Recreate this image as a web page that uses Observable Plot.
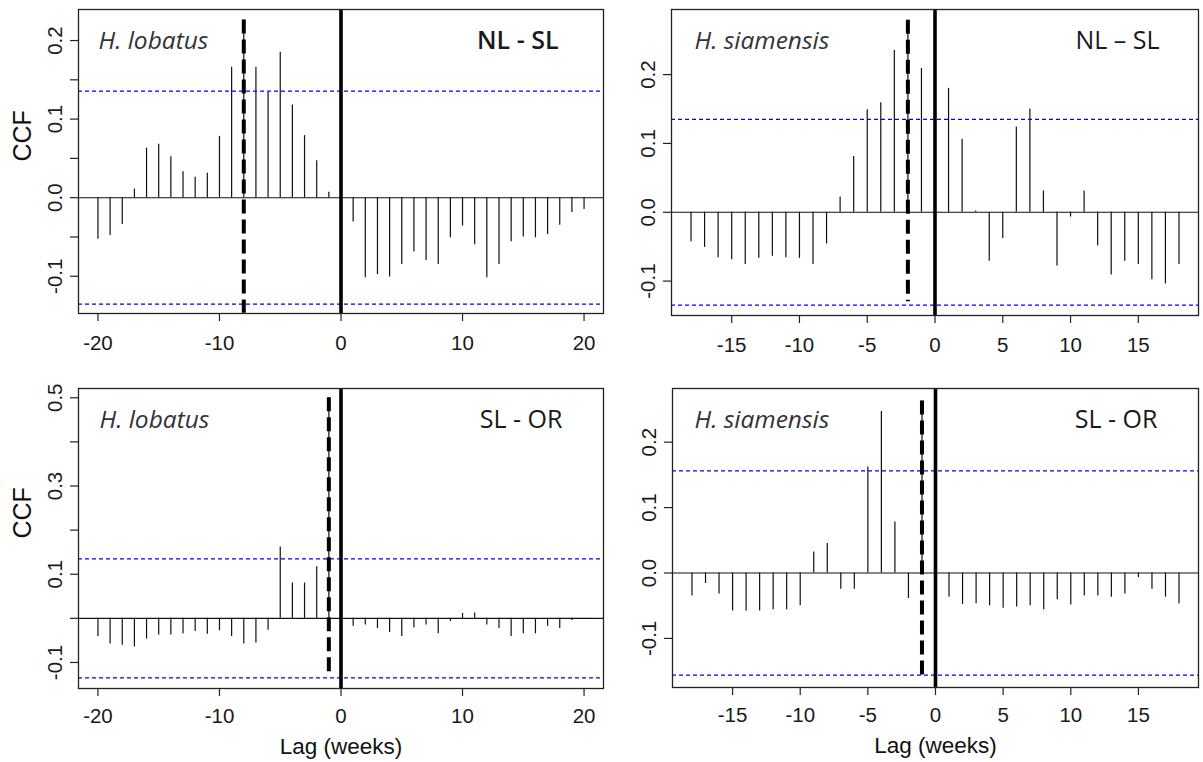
<!DOCTYPE html>
<html><head><meta charset="utf-8">
<script src="https://cdn.jsdelivr.net/npm/d3@7"></script>
<script src="https://cdn.jsdelivr.net/npm/@observablehq/plot@0.6"></script>
<style>
html,body{margin:0;padding:0;background:#fff;}
#wrap{position:relative;width:1203px;height:762px;overflow:hidden;background:#fff;}
#wrap svg{position:absolute;}
</style></head><body><div id="wrap"></div>
<script>
// ---------- data ----------
const lagsLobatus = [-20,-19,-18,-17,-16,-15,-14,-13,-12,-11,-10,-9,-8,-7,-6,-5,-4,-3,-2,-1,0,1,2,3,4,5,6,7,8,9,10,11,12,13,14,15,16,17,18,19,20];
const lagsSiamensis = [-18,-17,-16,-15,-14,-13,-12,-11,-10,-9,-8,-7,-6,-5,-4,-3,-2,-1,0,1,2,3,4,5,6,7,8,9,10,11,12,13,14,15,16,17,18];

const ccfLobatusNLSL = [-0.053,-0.048,-0.034,0.011,0.063,0.068,0.052,0.033,0.026,0.031,0.078,0.166,0.226,0.166,0.134,0.185,0.118,0.079,0.047,0.007,-0.010,-0.031,-0.102,-0.098,-0.101,-0.085,-0.069,-0.080,-0.085,-0.051,-0.036,-0.060,-0.102,-0.085,-0.056,-0.050,-0.051,-0.047,-0.035,-0.019,-0.015];
const ccfSiamensisNLSL = [-0.043,-0.051,-0.066,-0.069,-0.076,-0.067,-0.064,-0.066,-0.067,-0.076,-0.046,0.022,0.081,0.149,0.159,0.235,0.279,0.209,0.050,0.180,0.106,0.002,-0.071,-0.038,0.124,0.150,0.031,-0.078,-0.007,0.031,-0.049,-0.091,-0.071,-0.076,-0.098,-0.104,-0.076];
const ccfLobatusSLOR = [-0.041,-0.058,-0.061,-0.065,-0.047,-0.038,-0.038,-0.035,-0.030,-0.036,-0.028,-0.041,-0.058,-0.056,-0.027,0.162,0.080,0.080,0.117,0.500,-0.010,-0.018,-0.015,-0.023,-0.032,-0.041,-0.022,-0.015,-0.035,-0.007,0.011,0.012,-0.015,-0.023,-0.041,-0.035,-0.035,-0.018,-0.023,-0.005,-0.002];
const ccfSiamensisSLOR = [-0.035,-0.016,-0.032,-0.058,-0.058,-0.058,-0.056,-0.056,-0.050,0.032,0.045,-0.025,-0.025,0.162,0.247,0.078,-0.039,0.263,-0.030,-0.037,-0.048,-0.047,-0.050,-0.054,-0.052,-0.050,-0.056,-0.041,-0.049,-0.035,-0.035,-0.037,-0.032,-0.007,-0.025,-0.037,-0.047];

const ciLimits = [0.1355, 0.135, 0.135, 0.156];
const peakLags = [-8, -2, -1, -1];
const peakTops = [0.226, 0.279, 0.5, 0.263];
const peakBottoms = [-0.147, -0.130, -0.134, -0.156];

const speciesNames = ["H. lobatus", "H. siamensis", "H. lobatus", "H. siamensis"];
const pairNames = ["NL - SL", "NL \u2013 SL", "SL - OR", "SL - OR"];
const yAxisTitle = "CCF";
const xAxisTitle = "Lag (weeks)";

const xTicksLobatus = [-20, -10, 0, 10, 20];
const xTicksSiamensis = [-15, -10, -5, 0, 5, 10, 15];
const yTicks1 = [-0.1, -0.05, 0, 0.05, 0.1, 0.15, 0.2];
const yLabels1 = ["-0.1", "", "0.0", "", "0.1", "", "0.2"];
const yTicks2 = [-0.1, 0, 0.1, 0.2];
const yLabels2 = ["-0.1", "0.0", "0.1", "0.2"];
const yTicks3 = [-0.1, 0, 0.1, 0.2, 0.3, 0.4, 0.5];
const yLabels3 = ["-0.1", "", "0.1", "", "0.3", "", "0.5"];
const yTicks4 = [-0.1, 0, 0.1, 0.2];
const yLabels4 = ["-0.1", "0.0", "0.1", "0.2"];

// ---------- layout (styles only) ----------
const panels = [
  {lags: lagsLobatus, ccf: ccfLobatusNLSL, xTicks: xTicksLobatus, yTicks: yTicks1, yLabels: yLabels1,
   left: 0, top: 0, width: 610, height: 380, mL: 78, mR: 7, mT: 9, mB: 67, xPad: 14,
   xDom: [-21.6, 21.6], yDom: [-0.1474, 0.2395], sp: {dx: 20, dy: 39}, pr: {dx: -45, dy: 39, w: 600},
   yTitle: true, xTitle: false},
  {lags: lagsSiamensis, ccf: ccfSiamensisNLSL, xTicks: xTicksSiamensis, yTicks: yTicks2, yLabels: yLabels2,
   left: 610, top: 0, width: 593, height: 380, mL: 61, mR: 5, mT: 9, mB: 65, xPad: 14,
   xDom: [-19.44, 19.44], yDom: [-0.150, 0.2946], sp: {dx: 23, dy: 39}, pr: {dx: -39, dy: 39, w: 500},
   yTitle: false, xTitle: false},
  {lags: lagsLobatus, ccf: ccfLobatusSLOR, xTicks: xTicksLobatus, yTicks: yTicks3, yLabels: yLabels3,
   left: 0, top: 380, width: 610, height: 382, mL: 78, mR: 7, mT: 8, mB: 74, xPad: 12,
   xDom: [-21.6, 21.6], yDom: [-0.159, 0.521], sp: {dx: 21, dy: 39}, pr: {dx: -41, dy: 39, w: 400},
   yTitle: true, xTitle: true},
  {lags: lagsSiamensis, ccf: ccfSiamensisSLOR, xTicks: xTicksSiamensis, yTicks: yTicks4, yLabels: yLabels4,
   left: 610, top: 380, width: 593, height: 382, mL: 62, mR: 5, mT: 8, mB: 75, xPad: 12,
   xDom: [-19.44, 19.44], yDom: [-0.175, 0.282], sp: {dx: 22, dy: 39}, pr: {dx: -41, dy: 39, w: 400},
   yTitle: false, xTitle: true}
];

const tickFont = "'Liberation Sans', Arial, Helvetica, sans-serif";
const labelFont = "'Open Sans', 'Noto Sans', sans-serif";

const wrap = document.getElementById("wrap");
panels.forEach((p, i) => {
  const rows = p.lags.map((lag, j) => ({lag, ccf: p.ccf[j]}));
  const ci = ciLimits[i];
  const peak = [{lag: peakLags[i], top: peakTops[i], bottom: peakBottoms[i]}];
  const yLabelMap = new Map(p.yTicks.map((t, j) => [t, p.yLabels[j]]));
  const marks = [
    Plot.ruleX(rows, {x: "lag", y1: 0, y2: "ccf", stroke: "#111", strokeWidth: 1.2}),
    Plot.ruleY([0], {stroke: "#111", strokeWidth: 1.1}),
    Plot.ruleY([ci, -ci], {stroke: "#0000ff", strokeWidth: 1.2, strokeDasharray: "4,3"}),
    Plot.ruleX(peak, {x: "lag", y1: "top", y2: "bottom", stroke: "#000", strokeWidth: 4, strokeDasharray: "14,6"}),
    Plot.ruleX([0], {stroke: "#000", strokeWidth: 3.6}),
    Plot.frame({stroke: "#222", strokeWidth: 1.3}),
    Plot.axisX({ticks: p.xTicks, tickSize: 8, tickPadding: p.xPad, tickFormat: d => String(d), label: null,
      fontSize: 20.5, fontFamily: tickFont, stroke: "#222", strokeWidth: 1.2}),
    Plot.axisY({ticks: p.yTicks, tickSize: 8, tickPadding: 9, tickRotate: -90, tickFormat: d => yLabelMap.get(d), label: null,
      fontSize: 20.5, fontFamily: tickFont, stroke: "#222", strokeWidth: 1.2}),
    Plot.text([speciesNames[i]], {text: d => d, frameAnchor: "top-left", textAnchor: "start", lineAnchor: "bottom",
      dx: p.sp.dx, dy: p.sp.dy, fontFamily: labelFont, fontStyle: "italic", fontSize: 24.5, fill: "#333"}),
    Plot.text([pairNames[i]], {text: d => d, frameAnchor: "top-right", textAnchor: "end", lineAnchor: "bottom",
      dx: p.pr.dx, dy: p.pr.dy, fontFamily: labelFont, fontWeight: p.pr.w, fontSize: 25, fill: "#1a1a1a"})
  ];
  if (p.yTitle) marks.push(Plot.text([yAxisTitle], {text: d => d, frameAnchor: "left", dx: -56, rotate: -90,
      fontFamily: tickFont, fontSize: 25, fill: "#111"}));
  if (p.xTitle) marks.push(Plot.text([xAxisTitle], {text: d => d, frameAnchor: "bottom", dy: 58, lineAnchor: "middle",
      fontFamily: tickFont, fontSize: 22.5, fill: "#111"}));
  const chart = Plot.plot({
    width: p.width, height: p.height,
    marginLeft: p.mL, marginRight: p.mR, marginTop: p.mT, marginBottom: p.mB,
    style: {background: "transparent", color: "#1a1a1a", fontFamily: tickFont, overflow: "visible"},
    x: {domain: p.xDom},
    y: {domain: p.yDom},
    marks
  });
  chart.style.left = p.left + "px";
  chart.style.top = p.top + "px";
  wrap.appendChild(chart);
});
</script>
</body></html>
